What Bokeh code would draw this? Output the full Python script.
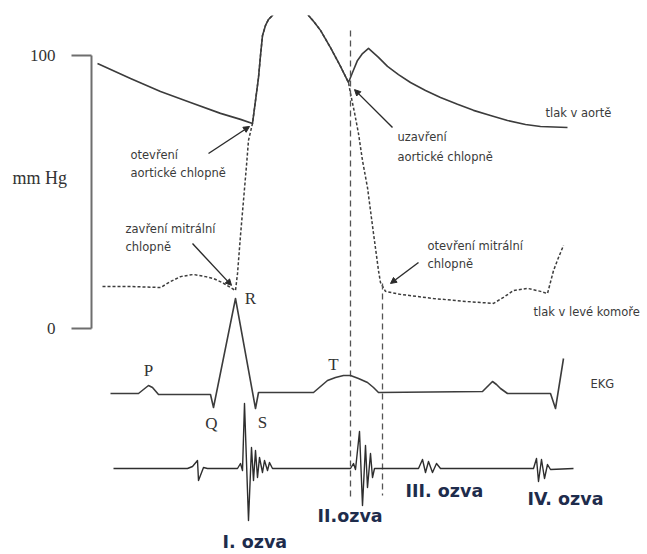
from bokeh.plotting import figure
from bokeh.models import Range1d, Arrow, NormalHead
from bokeh.core.properties import value
from bokeh.embed import file_html
from bokeh.resources import INLINE

# ---- data (time in ms, pressure in mmHg, ECG in mV, heart sound amplitude a.u.) ----
aort_t = [12, 78, 138, 198, 258, 298, 322, 328, 334, 338, 342, 348, 354, 362, 378, 398, 418, 434,
          446, 458, 478, 498, 514, 522, 532, 542, 554, 574, 592, 614, 638, 668, 698, 732, 764, 798,
          832, 868, 898, 952]
aort_p = [97.1, 91.6, 86.8, 82.8, 78.8, 76.6, 75.1, 83.5, 91.9, 100.0, 107.3, 111.0, 113.2, 114.7,
          119.0, 121.2, 119.0, 114.7, 112.1, 109.2, 102.9, 96.0, 90.1, 93.8, 98.2, 100.7, 102.6,
          99.3, 96.0, 93.0, 90.1, 87.2, 84.6, 82.1, 79.9, 78.0, 76.2, 74.7, 74.0, 73.6]

lv_t = [22, 78, 138, 158, 178, 204, 228, 244, 262, 278, 288, 292, 298, 304, 310, 314, 322, 328,
        334, 338, 342, 348, 354, 362, 378, 398, 418, 434, 446, 458, 478, 498, 514, 518, 526, 534,
        542, 552, 558, 564, 570, 574, 578, 588, 618, 684, 748, 804, 824, 844, 872, 898, 912, 924,
        934, 944]
lv_p = [15.4, 15.4, 15.0, 17.2, 19.0, 19.8, 19.0, 18.3, 16.8, 15.0, 13.9, 20.1, 34.1, 46.9, 59.7,
        68.9, 75.1, 83.5, 91.9, 100.0, 107.3, 111.0, 113.2, 114.7, 119.0, 121.2, 119.0, 114.7,
        112.1, 109.2, 102.9, 96.0, 90.1, 86.1, 79.1, 71.4, 61.5, 51.6, 43.2, 34.8, 26.7, 21.2,
        16.8, 13.6, 12.5, 11.0, 9.9, 9.2, 11.4, 13.9, 14.7, 13.6, 12.8, 21.2, 26.0, 30.4]

ekg_t = [38, 94, 104, 114, 122, 134, 238, 244, 288, 328, 334, 444, 458, 472, 488, 504, 518, 534,
         552, 564, 574, 782, 792, 802, 810, 818, 832, 918, 928, 944]
ekg_mv = [0, 0, 0.04, 0.08, 0.06, -0.01, -0.01, -0.14, 0.95, -0.15, 0.01, 0.01, 0.07, 0.13, 0.16,
          0.18, 0.18, 0.15, 0.11, 0.06, 0.01, 0.02, 0.07, 0.12, 0.09, 0.05, 0.0, 0.0, -0.15, 0.35]

snd_t = [44, 192, 202, 212, 214, 224, 232, 292, 298, 302, 306, 314, 320, 324, 328, 332, 336, 342,
         346, 352, 356, 362, 518, 524, 528, 536, 542, 548, 552, 558, 562, 566, 654, 662, 668, 674,
         682, 690, 698, 884, 890, 894, 900, 906, 912, 918, 964]
snd_a = [0, 0, 0.04, 0.16, -0.24, 0.02, 0, 0, 0.10, -0.04, 1.30, -1.04, 0.42, -0.24, 0.36, -0.18,
         0.22, -0.08, 0.16, -0.04, 0.12, 0, 0, 0.10, -0.02, 0.74, -0.74, 0.46, -0.38, 0.30, -0.18,
         0, 0, 0.18, -0.08, 0.14, -0.08, 0.10, 0, 0, 0.20, -0.26, 0.18, -0.20, 0.08, -0.02, 0]

# event markers (aortic valve closure, mitral valve opening)
event_t = [518, 582]
event_top = [109.2, 16.5]
event_bottom = [-61.9, -61.2]

# pressure scale bracket
pressure_ticks = [0, 100]
pressure_tick_labels = ["0", "100"]
pressure_unit = "mm Hg"
pressure_unit_p = 55.3

# annotation texts (pressure space)
note_text = ["otevření", "aortické chlopně", "zavření mitrální", "chlopně",
             "uzavření", "aortické chlopně", "otevření mitrální", "chlopně",
             "tlak v aortě", "tlak v levé komoře"]
note_t = [78, 78, 68, 68, 612, 612, 672, 672, 908, 884]
note_p = [63.7, 56.8, 36.6, 29.7, 70.0, 63.0, 30.4, 23.8, 78.8, 5.9]

# leader arrows: start -> end (t, mmHg)
arr_t0 = [234, 202, 602, 654]
arr_p0 = [64.1, 31.1, 73.6, 24.2]
arr_t1 = [316, 280, 526, 598]
arr_p1 = [74.0, 15.8, 87.5, 16.5]

ekg_labels = ["P", "Q", "R", "S", "T"]
ekg_label_t = [114, 240, 318, 342, 484]
ekg_label_mv = [0.23, -0.30, 0.95, -0.29, 0.29]

sound_labels = ["I. ozva", "II.ozva", "III. ozva", "IV. ozva"]
sound_label_t = [262, 452, 628, 872]
sound_label_a = [-1.47, -0.94, -0.44, -0.60]

LINE = "#3c3c3c"
AXIS = "#6e6e6e"
AXIS_T = 0          # time where the pressure bracket stands
TICK_LEN = 40       # ms, length of the bracket ticks

p = figure(width=647, height=554, output_backend="svg", toolbar_location=None,
           x_range=Range1d(-182, 1112), y_range=Range1d(-82.78, 114.65),
           min_border_left=0, min_border_top=15, min_border_right=0, min_border_bottom=0,
           x_axis_location=None, y_axis_location=None)
p.extra_y_ranges = {"ekg": Range1d(-1.61, 3.78), "snd": Range1d(-1.72, 9.06)}
p.outline_line_color = None
p.background_fill_color = "white"
p.border_fill_color = "white"
p.grid.visible = False

# pressure bracket (0 - 100 mm Hg)
p.segment(x0=[AXIS_T], y0=[min(pressure_ticks)], x1=[AXIS_T], y1=[max(pressure_ticks)],
          line_color=AXIS, line_width=2)
p.segment(x0=[AXIS_T - TICK_LEN] * len(pressure_ticks), y0=pressure_ticks,
          x1=[AXIS_T] * len(pressure_ticks), y1=pressure_ticks, line_color=AXIS, line_width=2)
p.text(x=[AXIS_T - 72] * len(pressure_ticks), y=pressure_ticks, text=pressure_tick_labels,
       text_font=value("Liberation Serif"), text_font_size="17px", text_color="#333333",
       text_baseline="middle", text_align="right")
p.text(x=[AXIS_T - 158], y=[pressure_unit_p], text=[pressure_unit],
       text_font=value("Liberation Serif"), text_font_size="18px", text_color="#333333",
       text_baseline="middle", text_align="left")

# pressure curves
p.line(lv_t, lv_p, line_color=LINE, line_width=1.5, line_dash="3 2")
p.line(aort_t, aort_p, line_color=LINE, line_width=1.6, line_join="round")

# event dashed verticals
p.segment(x0=event_t, y0=event_top, x1=event_t, y1=event_bottom, line_color="#555555",
          line_width=1.3, line_dash="6 4")

# ECG
p.line(ekg_t, ekg_mv, y_range_name="ekg", line_color=LINE, line_width=1.6, line_join="round")

# heart sounds
p.line(snd_t, snd_a, y_range_name="snd", line_color="#2e2e2e", line_width=1.4, line_join="round")

# arrows
for a0, b0, a1, b1 in zip(arr_t0, arr_p0, arr_t1, arr_p1):
    p.add_layout(Arrow(x_start=a0, y_start=b0, x_end=a1, y_end=b1,
                       line_color="#2a2a2a", line_width=1.4,
                       end=NormalHead(size=6, fill_color="#2a2a2a", line_color="#2a2a2a")))

# texts
p.text(x=note_t, y=note_p, text=note_text, text_font=value("DejaVu Sans"),
       text_font_size="11.5px", text_color="#3a3a3a", text_baseline="middle", text_align="left")
p.text(x=[998], y=[0.10], text=["EKG"], y_range_name="ekg", text_font=value("DejaVu Sans"),
       text_font_size="11.5px", text_color="#3a3a3a", text_baseline="middle", text_align="left")
p.text(x=ekg_label_t, y=ekg_label_mv, text=ekg_labels, y_range_name="ekg",
       text_font=value("Liberation Serif"), text_font_size="17px", text_color="#333333",
       text_baseline="middle", text_align="center")
p.text(x=sound_label_t, y=sound_label_a, text=sound_labels, y_range_name="snd",
       text_font=value("DejaVu Sans"), text_font_style="bold", text_font_size="17.5px",
       text_color="#1e2c4c", text_baseline="middle", text_align="left")

open("out.html", "w").write(file_html(p, INLINE))
